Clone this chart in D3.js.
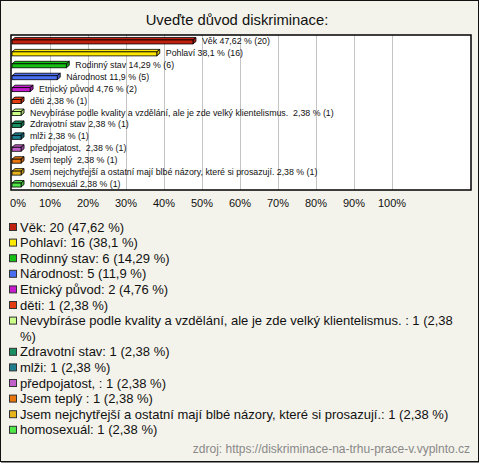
<!DOCTYPE html>
<html><head><meta charset="utf-8">
<script src="https://cdn.jsdelivr.net/npm/d3@7"></script>
<style>
html,body{margin:0;padding:0;background:#fff;}
svg text{font-family:"Liberation Sans",Arial,sans-serif;white-space:pre;}
</style></head>
<body>
<svg id="chart" width="480" height="463"></svg>
<script>
const title = "Uveďte důvod diskriminace:";
const categories = ["Věk","Pohlaví","Rodinný stav","Národnost","Etnický původ","děti",
  "Nevybíráse podle kvality a vzdělání, ale je zde velký klientelismus. ",
  "Zdravotní stav","mlži","předpojatost, ","Jsem teplý ",
  "Jsem nejchytřejší a ostatní mají blbé názory, které si prosazují.","homosexuál"];
const counts = [20,16,6,5,2,1,1,1,1,1,1,1,1];
const percents = [47.62,38.1,14.29,11.9,4.76,2.38,2.38,2.38,2.38,2.38,2.38,2.38,2.38];
const colors = ["#c0200e","#ffe800","#14c014","#4a6ef0","#c41ccc","#e23c10","#ccff88",
  "#1a9060","#1f7f8f","#c060c8","#e8760c","#e8b41c","#50e848"];
const tickValues = [0,10,20,30,40,50,60,70,80,90,100];
const source = "zdroj: https://diskriminace-na-trhu-prace-v.vyplnto.cz";

const fmt = v => String(v).replace(".", ",");
const svg = d3.select("#chart");
const W = 480, H = 463;

svg.append("rect").attr("x",0.5).attr("y",0.5).attr("width",W-2).attr("height",H-2)
  .attr("fill","#f4f3eb").attr("stroke","#111").attr("stroke-width",1);
svg.append("line").attr("x1",1).attr("x2",W-1).attr("y1",H-1).attr("y2",H-1).attr("stroke","#111");

svg.append("text").attr("x",237).attr("y",25).attr("text-anchor","middle")
  .attr("font-size",14.8).attr("fill","#111").text(title);

const plot = {left:11, right:471, top:35, bottom:190};
const x = d3.scaleLinear().domain([0,100]).range([12,392]);
const y = d3.scaleBand().domain(d3.range(categories.length)).range([plot.top, plot.bottom]);

svg.append("rect").attr("x",plot.left).attr("y",plot.top)
  .attr("width",plot.right-plot.left).attr("height",plot.bottom-plot.top)
  .attr("fill","#fff");

svg.append("g").selectAll("line").data(tickValues.slice(1)).join("line")
  .attr("x1",d=>Math.round(x(d))+0.5).attr("x2",d=>Math.round(x(d))+0.5)
  .attr("y1",plot.top).attr("y2",plot.bottom).attr("stroke","#c4c4c4").attr("stroke-width",1);

svg.append("rect").attr("x",plot.left).attr("y",plot.top)
  .attr("width",plot.right-plot.left).attr("height",plot.bottom-plot.top)
  .attr("fill","none").attr("stroke","#000").attr("stroke-width",1.5);

// axis tick labels
svg.append("g").selectAll("text").data(tickValues).join("text")
  .attr("x",d=> d===0 ? x(d)+6 : x(d))
  .attr("y",207).attr("text-anchor","middle").attr("font-size",11).attr("fill","#111")
  .text(d=>d+"%");

// 3D bars
const dx = 3, dy = 2.5;
const bars = svg.append("g").selectAll("g").data(categories).join("g");
bars.each(function(d,i){
  const g = d3.select(this);
  const cy = y(i) + y.bandwidth()/2;
  const x0 = x(0), x1 = x(percents[i]);
  const top = cy - 1, bot = cy + 3;
  g.append("path").attr("d",`M${x0},${top} L${x0+dx},${top-dy} L${x1+dx},${top-dy} L${x1},${top} Z`)
    .attr("fill",colors[i]).attr("stroke","#000").attr("stroke-width",0.8);
  g.append("path").attr("d",`M${x1},${top} L${x1+dx},${top-dy} L${x1+dx},${bot-dy} L${x1},${bot} Z`)
    .attr("fill",d3.color(colors[i]).darker(0.6)).attr("stroke","#000").attr("stroke-width",0.8);
  g.append("rect").attr("x",x0).attr("y",top).attr("width",x1-x0).attr("height",bot-top)
    .attr("fill",colors[i]).attr("stroke","#000").attr("stroke-width",0.8);
  g.append("text").attr("x",x1+9).attr("y",cy+3).attr("font-size",8.8).attr("fill","#111")
    .text(categories[i]+" "+fmt(percents[i])+" % ("+counts[i]+")");
});

// legend
const lg = svg.append("g");
let line = 0;
const lineH = 15.6, firstY = 227, textX = 20, maxW = 448;
categories.forEach((c,i)=>{
  const label = c+": "+counts[i]+" ("+fmt(percents[i])+" %)";
  const cy = firstY + line*lineH;
  lg.append("rect").attr("x",9.5).attr("y",cy-3.5).attr("width",7).attr("height",7)
    .attr("fill",colors[i]).attr("stroke","#333").attr("stroke-width",1);
  const words = label.split(" ");
  let cur = "";
  const t = lg.append("text").attr("x",textX).attr("y",cy+4.5).attr("font-size",13).attr("fill","#111");
  const lines = [];
  words.forEach((w,k)=>{
    const test = k===0 ? w : cur+" "+w;
    t.text(test);
    if (t.node().getComputedTextLength() > maxW && cur !== "") { lines.push(cur); cur = w; }
    else cur = test;
  });
  lines.push(cur);
  t.text(lines[0]);
  for (let k=1;k<lines.length;k++){
    line++;
    lg.append("text").attr("x",textX).attr("y",firstY+line*lineH+4.5).attr("font-size",13)
      .attr("fill","#111").text(lines[k]);
  }
  line++;
});

svg.append("text").attr("x",470).attr("y",453).attr("text-anchor","end")
  .attr("font-size",12).attr("fill","#888").text(source);
</script>
</body></html>
